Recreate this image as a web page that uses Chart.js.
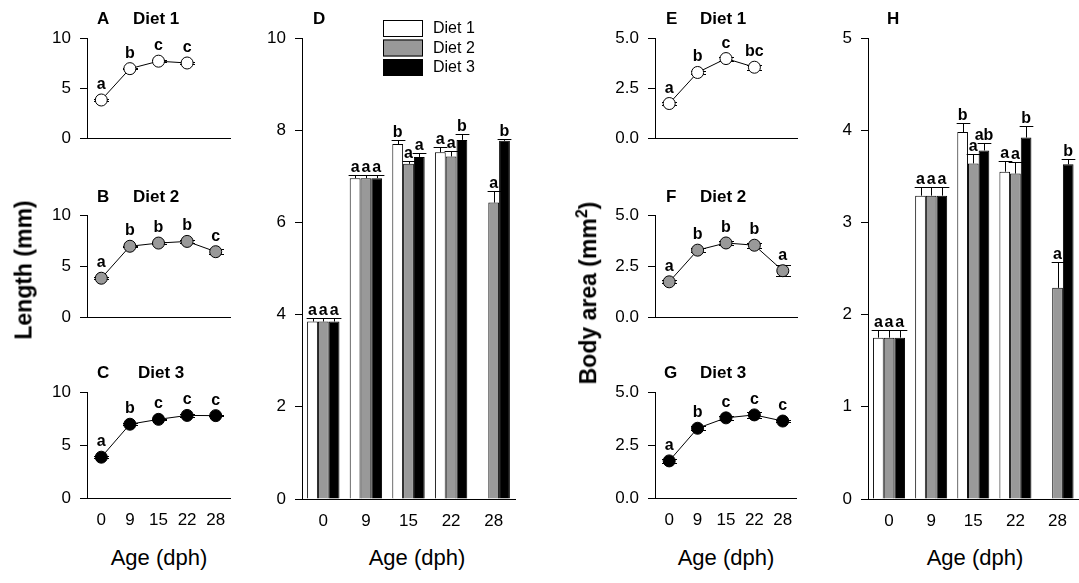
<!DOCTYPE html>
<html>
<head>
<meta charset="utf-8">
<script src="https://cdn.jsdelivr.net/npm/chart.js@4.4.1/dist/chart.umd.min.js"></script>
<style>
body{margin:0;background:#fff;}
#wrap{position:relative;width:1079px;height:583px;overflow:hidden;background:#fff;font-family:"Liberation Sans",Arial,sans-serif;}
canvas{position:absolute;}
.t{position:absolute;white-space:nowrap;color:#000;line-height:1;}
.pl{font-weight:bold;font-size:17px;transform:translateY(-50%);}
.ax{font-size:22px;transform:translate(-50%,-50%);}
.yt{font-weight:bold;font-size:23px;transform:translate(-50%,-50%) rotate(-90deg);}
</style>
</head>
<body>
<div id="wrap"></div>
<script>
const ages = ["0", "9", "15", "22", "28"];
const diets = ["Diet 1", "Diet 2", "Diet 3"];

// length (mm), mean and SE
const len1 = [3.85, 6.96, 7.70, 7.52, null];
const len2 = [3.85, 6.96, 7.27, 7.43, 6.43];
const len3 = [3.85, 6.96, 7.42, 7.79, 7.77];
const lenErr1 = [0.08, 0.07, 0.08, 0.12, null];
const lenErr2 = [0.08, 0.07, 0.07, 0.12, 0.26];
const lenErr3 = [0.08, 0.07, 0.08, 0.13, 0.04];

// body area (mm2), mean and SE
const area1 = [1.75, 3.29, 3.98, 3.55, null];
const area2 = [1.75, 3.29, 3.64, 3.53, 2.29];
const area3 = [1.75, 3.29, 3.78, 3.92, 3.63];
const areaErr1 = [0.08, 0.09, 0.10, 0.12, null];
const areaErr2 = [0.08, 0.09, 0.10, 0.13, 0.28];
const areaErr3 = [0.08, 0.09, 0.08, 0.13, 0.06];

// letters: age effect within a diet (line panels)
const lenAgeSig1 = ["a", "b", "c", "c", ""];
const lenAgeSig2 = ["a", "b", "b", "b", "c"];
const lenAgeSig3 = ["a", "b", "c", "c", "c"];
const areaAgeSig1 = ["a", "b", "c", "bc", ""];
const areaAgeSig2 = ["a", "b", "b", "b", "a"];
const areaAgeSig3 = ["a", "b", "c", "c", "c"];

// letters: diet effect within an age (bar panels)
const lenDietSig1 = ["a", "a", "b", "a", ""];
const lenDietSig2 = ["a", "a", "a", "a", "a"];
const lenDietSig3 = ["a", "a", "a", "b", "b"];
const areaDietSig1 = ["a", "a", "b", "a", ""];
const areaDietSig2 = ["a", "a", "a", "a", "a"];
const areaDietSig3 = ["a", "a", "ab", "b", "b"];

const FONT = '"Liberation Sans", Arial, Helvetica, sans-serif';
Chart.defaults.font.family = FONT;
Chart.defaults.color = "#000";
const GRAY = "#999999";
const fills = ["#ffffff", GRAY, "#000000"];

function drawErr(chart) {
  const o = chart.options.plugins.errbars;
  const ctx = chart.ctx, y = chart.scales.y;
  ctx.save();
  ctx.strokeStyle = "#000";
  ctx.lineWidth = 1;
  chart.data.datasets.forEach((ds, i) => {
    chart.getDatasetMeta(i).data.forEach((el, j) => {
      const v = ds.data[j], e = ds.err[j];
      if (v == null || e == null) return;
      const x = Math.round(el.x) + 0.5;
      const top = Math.round(y.getPixelForValue(v + e)) + 0.5;
      const bot = o.both ? Math.round(y.getPixelForValue(v - e)) + 0.5 : el.y;
      const hw = o.both ? 7.5 : el.width / 2 + 1.5;
      ctx.beginPath();
      ctx.moveTo(x, top); ctx.lineTo(x, bot);
      ctx.moveTo(x - hw, top); ctx.lineTo(x + hw, top);
      if (o.both) { ctx.moveTo(x - hw, bot); ctx.lineTo(x + hw, bot); }
      ctx.stroke();
    });
  });
  ctx.restore();
}

function drawSig(chart) {
  const o = chart.options.plugins.errbars;
  const ctx = chart.ctx, y = chart.scales.y;
  ctx.save();
  ctx.fillStyle = "#000";
  ctx.font = "bold 16px " + FONT;
  ctx.textAlign = "center";
  ctx.textBaseline = "alphabetic";
  chart.data.datasets.forEach((ds, i) => {
    chart.getDatasetMeta(i).data.forEach((el, j) => {
      const v = ds.data[j], s = ds.sig[j];
      if (v == null || !s) return;
      const top = y.getPixelForValue(v + (ds.err[j] || 0));
      const yy = o.both ? Math.min(el.y - 11, top - 3) : top - 3;
      ctx.fillText(s, el.x, yy);
    });
  });
  ctx.restore();
}

const errPlugin = {
  id: "errbars",
  beforeDatasetsDraw(chart) {
    if (chart.options.plugins.errbars.both) drawErr(chart);
  },
  afterDatasetsDraw(chart) {
    if (!chart.options.plugins.errbars.both) drawErr(chart);
    drawSig(chart);
  }
};

const legendPlugin = {
  id: "boxlegend",
  afterDraw(chart) {
    const ctx = chart.ctx, ca = chart.chartArea;
    ctx.save();
    ctx.font = "16px " + FONT;
    ctx.textBaseline = "middle";
    ctx.textAlign = "left";
    chart.data.datasets.forEach((ds, i) => {
      const bx = ca.left + 81, by = ca.top - 18 + i * 19.5;
      ctx.fillStyle = ds.backgroundColor;
      ctx.fillRect(bx, by, 40, 17);
      ctx.strokeStyle = "#000";
      ctx.lineWidth = 1;
      ctx.strokeRect(bx + 0.5, by + 0.5, 39, 16);
      ctx.fillStyle = "#000";
      ctx.fillText(ds.label, bx + 50, by + 9);
    });
    ctx.restore();
  }
};

function makePanel(a, cfg) {
  const cv = document.createElement("canvas");
  const yw = 62, xh = cfg.showX ? 40 : 14;
  const top = cfg.top || 20, right = cfg.right == null ? 8 : cfg.right;
  cv.width = a[1] - a[0] + yw + right;
  cv.height = a[3] - a[2] + top + xh;
  cv.style.left = (a[0] - yw) + "px";
  cv.style.top = (a[2] - top) + "px";
  document.getElementById("wrap").appendChild(cv);
  return new Chart(cv, {
    type: cfg.type,
    data: { labels: ages, datasets: cfg.datasets },
    options: {
      responsive: false,
      animation: false,
      devicePixelRatio: 1,
      layout: { padding: { top: top, right: right, left: 0, bottom: 0 } },
      plugins: {
        legend: { display: false },
        tooltip: { enabled: false },
        errbars: { both: cfg.type === "line" }
      },
      scales: {
        x: {
          type: "category",
          offset: true,
          ticks: { display: !!cfg.showX, font: { size: 17 }, color: "#000", padding: 12, maxRotation: 0, autoSkip: false },
          grid: { drawOnChartArea: false, drawTicks: false },
          border: { color: "#000", width: 1 },
          afterFit: s => { s.height = xh; }
        },
        y: {
          min: 0,
          max: cfg.yMax,
          ticks: { stepSize: cfg.yStep, font: { size: 17 }, color: "#000", padding: 9, callback: cfg.yFmt },
          grid: { drawOnChartArea: false, tickLength: 7, tickColor: "#000", tickWidth: 1 },
          border: { color: "#000", width: 1 },
          afterFit: s => { s.width = yw; }
        }
      }
    },
    plugins: [errPlugin].concat(cfg.extra || [])
  });
}

function lineSet(data, err, sig, fill) {
  return {
    data: data, err: err, sig: sig,
    borderColor: "#000", borderWidth: 1, tension: 0, fill: false,
    pointRadius: 6, pointBackgroundColor: fill, pointBorderColor: "#000", pointBorderWidth: 1
  };
}

function barSet(k, data, err, sig) {
  return {
    label: diets[k], data: data, err: err, sig: sig,
    backgroundColor: fills[k], borderColor: "#000", borderWidth: 1,
    categoryPercentage: 0.76, barPercentage: 1
  };
}

const intFmt = v => String(v);
const decFmt = v => Number(v).toFixed(1);

// length panels
makePanel([87, 230, 38, 144], { type: "line", yMax: 10, yStep: 5, yFmt: intFmt,
  datasets: [lineSet(len1, lenErr1, lenAgeSig1, "#fff")] });
makePanel([87, 230, 215, 323], { type: "line", yMax: 10, yStep: 5, yFmt: intFmt,
  datasets: [lineSet(len2, lenErr2, lenAgeSig2, GRAY)] });
makePanel([87, 230, 392, 498], { type: "line", yMax: 10, yStep: 5, yFmt: intFmt, showX: true,
  datasets: [lineSet(len3, lenErr3, lenAgeSig3, "#000")] });
makePanel([302, 515, 38, 499], { type: "bar", yMax: 10, yStep: 2, yFmt: intFmt, showX: true, top: 32,
  datasets: [barSet(0, len1, lenErr1, lenDietSig1), barSet(1, len2, lenErr2, lenDietSig2), barSet(2, len3, lenErr3, lenDietSig3)],
  extra: [legendPlugin] });

// body area panels
makePanel([655, 797, 38, 144], { type: "line", yMax: 5, yStep: 2.5, yFmt: decFmt,
  datasets: [lineSet(area1, areaErr1, areaAgeSig1, "#fff")] });
makePanel([655, 797, 215, 323], { type: "line", yMax: 5, yStep: 2.5, yFmt: decFmt,
  datasets: [lineSet(area2, areaErr2, areaAgeSig2, GRAY)] });
makePanel([655, 797, 392, 498], { type: "line", yMax: 5, yStep: 2.5, yFmt: decFmt, showX: true,
  datasets: [lineSet(area3, areaErr3, areaAgeSig3, "#000")] });
makePanel([868, 1079, 38, 499], { type: "bar", yMax: 5, yStep: 1, yFmt: intFmt, showX: true, right: 0,
  datasets: [barSet(0, area1, areaErr1, areaDietSig1), barSet(1, area2, areaErr2, areaDietSig2), barSet(2, area3, areaErr3, areaDietSig3)] });

// text labels
const texts = [
  ["pl", 97, 18, "A"], ["pl", 133, 18, "Diet 1"],
  ["pl", 97, 196, "B"], ["pl", 133, 196, "Diet 2"],
  ["pl", 97, 372, "C"], ["pl", 138, 372, "Diet 3"],
  ["pl", 313, 18, "D"],
  ["pl", 666, 18, "E"], ["pl", 700, 18, "Diet 1"],
  ["pl", 666, 196, "F"], ["pl", 700, 196, "Diet 2"],
  ["pl", 664, 372, "G"], ["pl", 700, 372, "Diet 3"],
  ["pl", 887, 18, "H"],
  ["ax", 159, 558, "Age (dph)"], ["ax", 417, 558, "Age (dph)"],
  ["ax", 726, 558, "Age (dph)"], ["ax", 975, 558, "Age (dph)"],
  ["yt", 24, 270, "Length (mm)"],
  ["yt", 587, 293, "Body area (mm<sup style=\"font-size:16px\">2</sup>)"]
];
const wrap = document.getElementById("wrap");
texts.forEach(t => {
  const d = document.createElement("div");
  d.className = "t " + t[0];
  d.style.left = t[1] + "px";
  d.style.top = t[2] + "px";
  d.innerHTML = t[3];
  wrap.appendChild(d);
});
</script>
</body>
</html>
